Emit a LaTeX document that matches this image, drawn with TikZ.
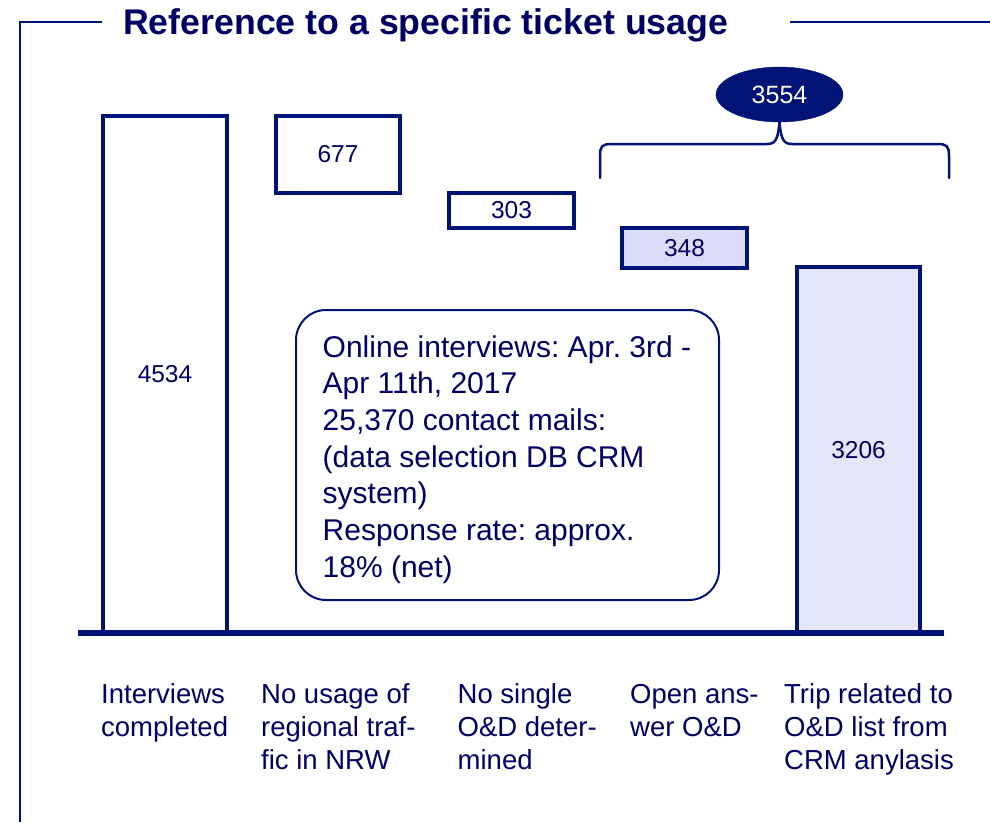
\documentclass[tikz,border=0pt]{standalone}
\usepackage{fontspec}
\setmainfont{Liberation Sans}
\usetikzlibrary{shapes.geometric}
\definecolor{navy}{RGB}{0,20,120}
\definecolor{ink}{RGB}{0,0,100}
\definecolor{lav}{RGB}{220,220,250}
\definecolor{lavlight}{RGB}{230,230,250}
\frenchspacing
\begin{document}
\begin{tikzpicture}[x=1pt,y=-1pt,
  bar/.style={draw=navy, line width=3.2pt, inner sep=0pt, text=ink, font=\fontsize{24.5}{29}\selectfont},
  lbl/.style={anchor=base west, inner sep=0pt, text=ink},
  frameline/.style={draw=navy, line width=2pt}]
\useasboundingbox (0,0) rectangle (990,822);
% frame
\coordinate (fl1) at (102,22);
\coordinate (fl2) at (20,22);
\coordinate (fl3) at (20,822);
\coordinate (fr1) at (790,22);
\coordinate (fr2) at (990,22);
\draw[frameline] (fl1) -- (fl2) -- (fl3);
\draw[frameline] (fr1) -- (fr2);
\node[anchor=base west, inner sep=0pt, text=ink, font=\bfseries\fontsize{35.7}{40}\selectfont] (title) at (123,34.3) {Reference to a specific ticket usage};
% bars
\node[bar, fill=white, minimum width=124pt, minimum height=517pt] (b1) at (165,374.5) {4534};
\node[bar, fill=white, minimum width=124pt, minimum height=77pt] (b2) at (338,154.5) {677};
\node[bar, fill=white, minimum width=125pt, minimum height=35pt] (b3) at (511.5,210.5) {303};
\node[bar, fill=lav, minimum width=125pt, minimum height=40pt] (b4) at (684.5,248) {348};
\node[bar, fill=lavlight, minimum width=123pt, minimum height=366pt] (b5) at (858.5,450) {3206};
% baseline
\coordinate (bl) at (78,633);
\coordinate (br) at (944,633);
\draw[navy, line width=6.5pt] (bl) -- (br);
% ellipse and brace
\node[ellipse, fill=navy, draw=navy, minimum width=127pt, minimum height=55pt, inner sep=0pt, text=white, font=\fontsize{25}{30}\selectfont] (sum) at (779.5,94.5) {3554};
\coordinate (brl) at (600,178);
\coordinate (brr) at (949,178);
\draw[navy, line width=2.5pt, line cap=round] (brl) -- (600,156) .. controls (600,146) and (602,144) .. (612,144) -- (767,144) .. controls (775,144) and (778,140) .. (sum.south);
\draw[navy, line width=2.5pt, line cap=round] (brr) -- (949,156) .. controls (949,146) and (947,144) .. (937,144) -- (792,144) .. controls (784,144) and (781,140) .. (sum.south);
% info box
\node[draw=navy, line width=2pt, rounded corners=30pt, minimum width=423pt, minimum height=290pt, inner sep=0pt] (info) at (507.5,455) {};
\node[lbl] (infotext) at (322.5,357) {\parbox[t]{390pt}{\raggedright\fontsize{30}{36.7}\selectfont Online interviews: Apr. 3rd -\\Apr 11th, 2017\\25,370 contact mails:\\(data selection DB CRM\\system)\\Response rate: approx.\\18\% (net)}};
% category labels
\node[lbl] (l1) at (101,703) {\parbox[t]{150pt}{\raggedright\fontsize{27.5}{33}\selectfont Interviews\\completed}};
\node[lbl] (l2) at (261,703) {\parbox[t]{170pt}{\raggedright\fontsize{27.5}{33}\selectfont No usage of\\regional traf-\\fic in NRW}};
\node[lbl] (l3) at (457.5,703) {\parbox[t]{170pt}{\raggedright\fontsize{27.5}{33}\selectfont No single\\O\&D deter-\\mined}};
\node[lbl] (l4) at (630,703) {\parbox[t]{150pt}{\raggedright\fontsize{27.5}{33}\selectfont Open ans-\\wer O\&D}};
\node[lbl] (l5) at (784,703) {\parbox[t]{200pt}{\raggedright\fontsize{27.5}{33}\selectfont Trip related to\\O\&D list from\\CRM anylasis}};
\end{tikzpicture}
\end{document}
